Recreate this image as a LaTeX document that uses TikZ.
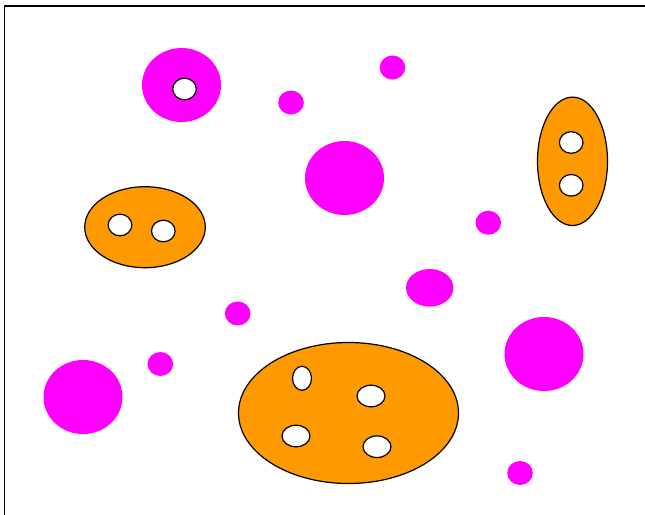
\documentclass[tikz,border=0pt]{standalone}
\usepackage{xcolor}
\usepackage{tikz}

\definecolor{blobpink}{HTML}{FF00FF}
\definecolor{cellorange}{HTML}{FF9900}

\begin{document}
\begin{tikzpicture}[
    x=1pt, y=-1pt,
    blob/.style={fill=blobpink},
    cell/.style={draw=black, line width=1.2pt, fill=cellorange},
    hole/.style={draw=black, line width=1.2pt, fill=white},
    frame/.style={draw=black, line width=1.6pt}
]

\clip (0,0) rectangle (645,514);
\useasboundingbox (0,0) rectangle (645,514);

% frame
\draw [frame] (4.5,6) rectangle (680,560);

% pink blobs
\fill [blob] (181.5,85) ellipse [x radius=39.5pt, y radius=37pt];
\fill [blob] (291,102.5) ellipse [x radius=12.8pt, y radius=12pt];
\fill [blob] (392.5,67.5) ellipse [x radius=12.8pt, y radius=12pt];
\fill [blob] (344.5,178) ellipse [x radius=39.5pt, y radius=37pt];
\fill [blob] (488.3,222.7) ellipse [x radius=12.8pt, y radius=12pt];
\fill [blob] (429.7,287.8) ellipse [x radius=23.7pt, y radius=18.8pt];
\fill [blob] (237.7,313.5) ellipse [x radius=12.8pt, y radius=12pt];
\fill [blob] (544,354) ellipse [x radius=39.5pt, y radius=37pt];
\fill [blob] (160.3,364) ellipse [x radius=12.8pt, y radius=12pt];
\fill [blob] (83,397) ellipse [x radius=39.5pt, y radius=37pt];
\fill [blob] (520,473) ellipse [x radius=12.8pt, y radius=12pt];

% hole in the pink blob
\draw [hole] (184.5,89) ellipse [x radius=11.8pt, y radius=10.8pt];

% upright cell
\draw [cell] (572.5,161.3) ellipse [x radius=35pt, y radius=64.2pt];
\draw [hole] (571.2,142.5) ellipse [x radius=11.8pt, y radius=10.8pt];
\draw [hole] (571.2,185.3) ellipse [x radius=11.8pt, y radius=10.8pt];

% left cell
\draw [cell] (145,227.2) ellipse [x radius=60.3pt, y radius=40.5pt];
\draw [hole] (120,225) ellipse [x radius=11.8pt, y radius=10.8pt];
\draw [hole] (163.3,231) ellipse [x radius=11.8pt, y radius=10.8pt];

% big cell
\draw [cell] (348.5,413) ellipse [x radius=110pt, y radius=70.5pt];
\draw [hole] (302,378.3) ellipse [x radius=9.5pt, y radius=12pt];
\draw [hole] (371,396) ellipse [x radius=14pt, y radius=10.8pt];
\draw [hole] (296,436) ellipse [x radius=14pt, y radius=10.8pt];
\draw [hole] (377,446.7) ellipse [x radius=14pt, y radius=10.8pt];

\end{tikzpicture}
\end{document}
